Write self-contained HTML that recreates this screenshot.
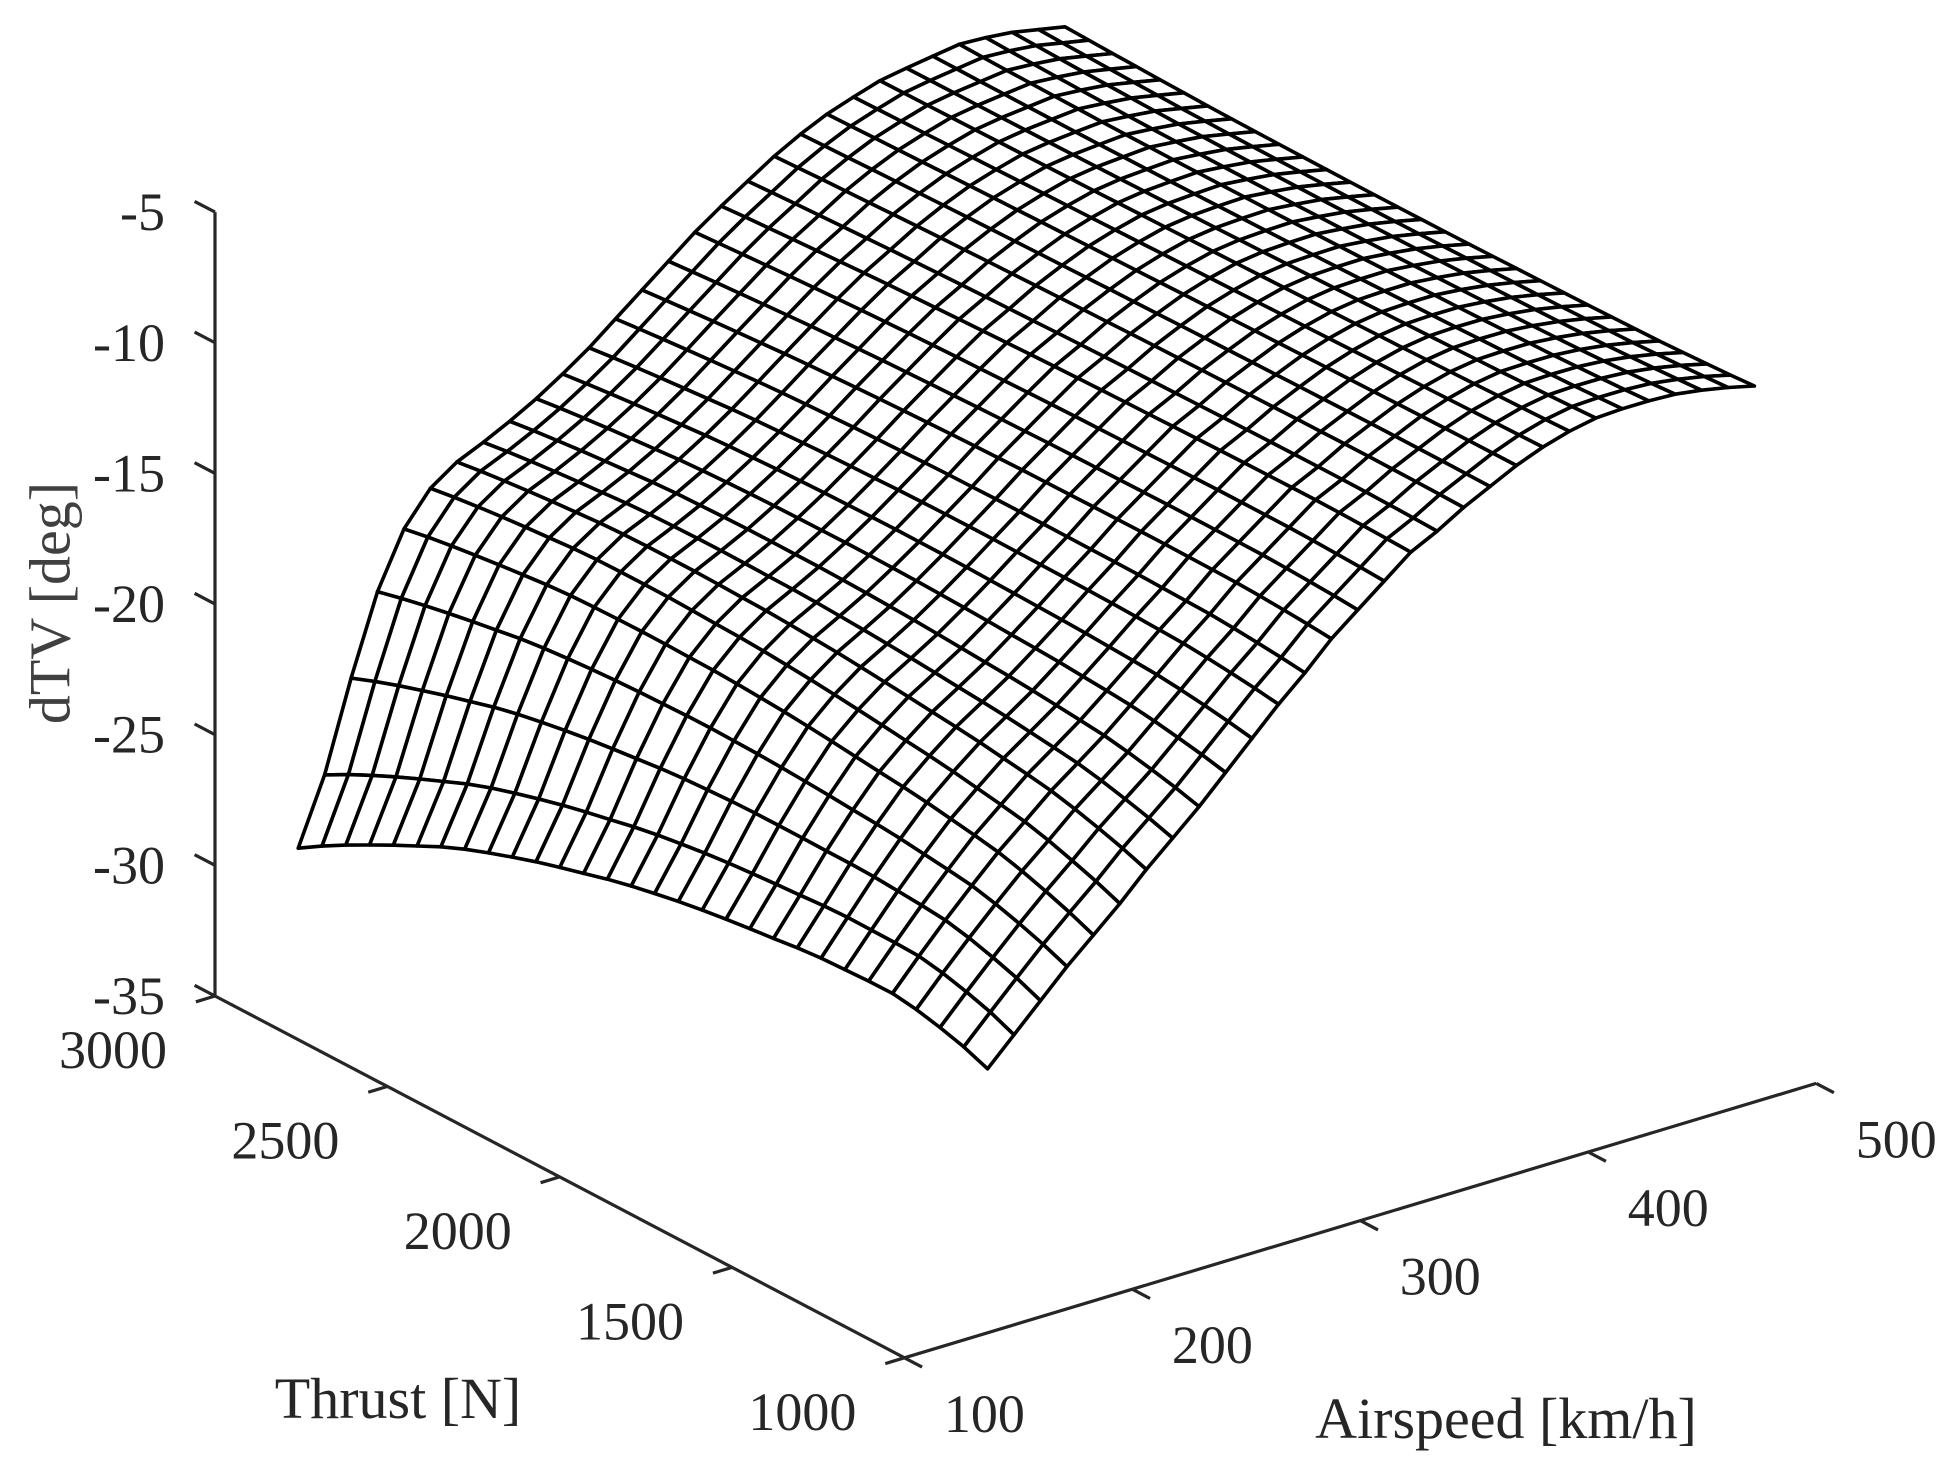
<!DOCTYPE html>
<html>
<head>
<meta charset="utf-8">
<style>
  html, body { margin: 0; padding: 0; background: #ffffff; }
  svg { display: block; }
  text { font-family: "Liberation Serif", "Times New Roman", serif; }
</style>
</head>
<body>
<svg id="chart" width="1938" height="1465" viewBox="0 0 1938 1465" xmlns="http://www.w3.org/2000/svg">
  <rect x="0" y="0" width="1938" height="1465" fill="#ffffff"/>
  <g id="axes"></g>
  <g id="surface"></g>
  <g id="labels">
    <text x="56" y="603" font-size="58" fill="#404040" text-anchor="middle" dominant-baseline="middle" transform="rotate(-90 56 603)">dTV [deg]</text>
    <text x="398" y="1418" font-size="58" fill="#262626" text-anchor="middle">Thrust [N]</text>
    <text x="1506" y="1438" font-size="58" fill="#262626" text-anchor="middle">Airspeed [km/h]</text>
  </g>
</svg>
<script>
// ---- data ----
const speeds = [136.5,148.1,159.7,171.3,182.9,194.5,206.1,217.7,229.3,240.9,252.5,264.1,275.7,287.3,298.9,310.5,322.1,333.7,345.3,356.9,368.5,380.1,391.7,403.3,414.9,426.5,438.1,449.7,461.3,472.9];
const thrusts = [1000,1069,1138,1207,1276,1345,1414,1483,1552,1621,1690,1759,1828,1897,1966,2034,2103,2172,2241,2310,2379,2448,2517,2586,2655,2724,2793,2862,2931,3000];
const dtvLowThrust = [-24.9,-23.9,-22.9,-21.9,-21.0,-20.1,-19.1,-18.2,-17.3,-16.3,-15.3,-14.3,-13.4,-12.4,-11.6,-10.8,-10.0,-9.5,-8.9,-8.4,-7.9,-7.5,-7.2,-7.0,-6.95,-6.95,-7.0,-7.15,-7.35,-7.6];
const dtvHighThrust = [-30.3,-27.8,-24.4,-21.4,-19.3,-18.05,-17.35,-16.9,-16.4,-15.84,-15.2,-14.5,-13.7,-12.9,-12.1,-11.3,-10.6,-9.95,-9.3,-8.76,-8.3,-7.95,-7.63,-7.45,-7.3,-7.15,-7.2,-7.3,-7.5,-7.7];
const thrustBulge = [0,0.55,1.0,1.4,1.72,1.9,2.05,2.2,2.3,2.37,2.45,2.52,2.58,2.62,2.63,2.63,2.6,2.53,2.47,2.39,2.28,2.15,2.0,1.8,1.54,1.28,1.0,0.7,0.37,0];
const bulgeBySpeed = [1,0.95,0.8,0.65,0.6,0.55,0.5,0.45,0.4,0.35,0.3,0.26,0.22,0.18,0.15,0.12,0.1,0.08,0.06,0.04,0.02,0,-0.02,-0.04,-0.06,-0.08,-0.1,-0.1,-0.1,-0.1];
const zTicks = [-5,-10,-15,-20,-25,-30,-35];
const thrustTicks = [1000,1500,2000,2500,3000];
const speedTicks = [100,200,300,400,500];

// ---- projection ----
const NS = "http://www.w3.org/2000/svg";
function proj(v, T, z) {
  const a = (v - 100) / 100, t = (T - 1000) / 1000, zz = z + 35;
  return [904.4 + 227.95 * a - 344.7 * t, 1357.8 - 68.6 * a - 180.9 * t - 26.13 * zz];
}
function depth(v, T) { return 68.6 * (v - 100) / 100 + 180.9 * (T - 1000) / 1000; }
function zAt(i, j) {
  const f = (thrusts[j] - 1000) / 2000;
  return dtvLowThrust[i] + (dtvHighThrust[i] - dtvLowThrust[i]) * f + thrustBulge[j] * bulgeBySpeed[i];
}
function line(g, x1, y1, x2, y2, name) {
  const l = document.createElementNS(NS, "line");
  l.setAttribute("x1", x1); l.setAttribute("y1", y1);
  l.setAttribute("x2", x2); l.setAttribute("y2", y2);
  l.setAttribute("stroke", "#262626"); l.setAttribute("stroke-width", "3.2");
  
  
  g.appendChild(l);
}
function label(g, x, y, txt, anchor, name) {
  const t = document.createElementNS(NS, "text");
  t.setAttribute("x", x); t.setAttribute("y", y);
  t.setAttribute("font-size", "54"); t.setAttribute("fill", "#262626");
  t.setAttribute("text-anchor", anchor);
  t.textContent = txt;
  
  
  g.appendChild(t);
}

// ---- axes ----
const ax = document.getElementById("axes");
const lab = document.getElementById("labels");
let p0 = proj(100, 3000, -35), p1 = proj(100, 3000, -5);
line(ax, p0[0], p0[1], p1[0], p1[1], "z-axis-line");
p0 = proj(100, 1000, -35); p1 = proj(100, 3000, -35);
line(ax, p0[0], p0[1], p1[0], p1[1], "thrust-axis-line");
p1 = proj(500, 1000, -35);
line(ax, p0[0], p0[1], p1[0], p1[1], "airspeed-axis-line");

zTicks.forEach(z => {
  const p = proj(100, 3000, z);
  line(ax, p[0], p[1], p[0] - 20.4, p[1] - 10.7, "z-tick");
  label(lab, p[0] - 50, p[1] + 18, String(z), "end", "z-tick-label");
});
thrustTicks.forEach(T => {
  const p = proj(100, T, -35);
  line(ax, p[0], p[1], p[0] - 19.1, p[1] + 5.8, "thrust-tick");
  label(lab, p[0] - 102, p[1] + 72, String(T), "middle", "thrust-tick-label");
});
speedTicks.forEach(v => {
  const p = proj(v, 1000, -35);
  line(ax, p[0], p[1], p[0] + 17.7, p[1] + 9.3, "airspeed-tick");
  label(lab, p[0] + 80, p[1] + 74, String(v), "middle", "airspeed-tick-label");
});

// ---- surface ----
const sg = document.getElementById("surface");
const quads = [];
for (let i = 0; i < speeds.length - 1; i++) {
  for (let j = 0; j < thrusts.length - 1; j++) {
    const pts = [[i, j], [i + 1, j], [i + 1, j + 1], [i, j + 1]].map(([a, b]) => proj(speeds[a], thrusts[b], zAt(a, b)));
    const d = depth((speeds[i] + speeds[i + 1]) / 2, (thrusts[j] + thrusts[j + 1]) / 2);
    quads.push({ pts, d });
  }
}
quads.sort((q1, q2) => q2.d - q1.d);
quads.forEach(q => {
  const p = document.createElementNS(NS, "polygon");
  p.setAttribute("points", q.pts.map(pt => pt[0].toFixed(1) + "," + pt[1].toFixed(1)).join(" "));
  p.setAttribute("fill", "#ffffff");
  p.setAttribute("stroke", "#000000");
  p.setAttribute("stroke-width", "3.6");
  p.setAttribute("stroke-linejoin", "round");
  
  
  sg.appendChild(p);
});
</script>
</body>
</html>
